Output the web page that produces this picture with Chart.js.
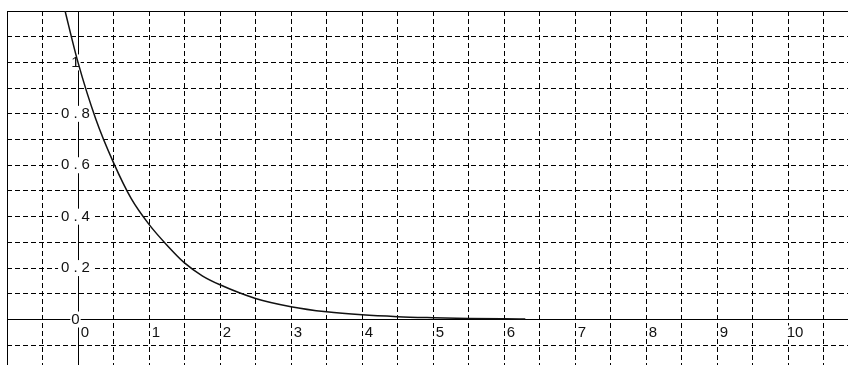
<!DOCTYPE html>
<html>
<head>
<meta charset="utf-8">
<script src="https://cdn.jsdelivr.net/npm/chart.js@4.4.1/dist/chart.umd.min.js"></script>
<style>
  html, body { margin: 0; padding: 0; background: #fff; }
  #wrap { width: 848px; height: 365px; }
</style>
</head>
<body>
<div id="wrap"><canvas id="grafica"></canvas></div>
<script>
"use strict";
/* DATOS */
const xValores = [-0.2, 0, 0.25, 0.5, 0.75, 1, 1.25, 1.5, 1.75, 2, 2.5, 3, 3.5, 4, 4.5, 5, 5.5, 6, 6.3];
const yValores = [1.22, 1.0, 0.78, 0.61, 0.47, 0.37, 0.29, 0.22, 0.17, 0.135, 0.082, 0.05, 0.03, 0.018, 0.011, 0.007, 0.004, 0.0025, 0.002];
const xMarcas = [0, 1, 2, 3, 4, 5, 6, 7, 8, 9, 10];
const xEtiquetas = ["0", "1", "2", "3", "4", "5", "6", "7", "8", "9", "10"];
const yMarcas = [0, 0.2, 0.4, 0.6, 0.8, 1];
const yEtiquetas = ["0", "0.2", "0.4", "0.6", "0.8", "1"];

const FUENTE = "15px 'Liberation Sans', Arial, sans-serif";
const NEGRO = "#000";

/* EJES Y ETIQUETAS */
const ejesPlugin = {
    id: "ejes",
    beforeDatasetsDraw(chart) {
        const ctx = chart.ctx;
        const area = chart.chartArea;
        const sx = chart.scales.x;
        const sy = chart.scales.y;
        const x0 = Math.round(sx.getPixelForValue(0)) + 0.5;
        const y0 = Math.round(sy.getPixelForValue(0)) + 0.5;
        ctx.save();
        ctx.strokeStyle = NEGRO;
        ctx.lineWidth = 1;
        ctx.setLineDash([]);
        ctx.beginPath();
        ctx.moveTo(area.left, y0);
        ctx.lineTo(area.right, y0);
        ctx.moveTo(x0, area.top);
        ctx.lineTo(x0, area.bottom);
        ctx.stroke();
        // borde superior e izquierdo
        ctx.beginPath();
        ctx.moveTo(Math.round(area.left) + 0.5, area.bottom);
        ctx.lineTo(Math.round(area.left) + 0.5, Math.round(area.top) + 0.5);
        ctx.lineTo(area.right, Math.round(area.top) + 0.5);
        ctx.stroke();

        ctx.font = FUENTE;
        ctx.textBaseline = "middle";
        ctx.textAlign = "center";
        // etiquetas eje y
        yMarcas.forEach((v, i) => {
            const texto = yEtiquetas[i];
            const py = sy.getPixelForValue(v);
            ctx.letterSpacing = texto.length > 1 ? "4px" : "0px";
            const w = ctx.measureText(texto).width;
            const cx = x0 - 3;
            ctx.fillStyle = "#fff";
            ctx.fillRect(cx - w / 2 - 1, py - 8, w + 2, 16);
            ctx.fillStyle = "#111";
            ctx.fillText(texto, cx + (texto.length > 1 ? 2 : 0), py);
        });
        ctx.letterSpacing = "0px";
        // etiquetas eje x
        xMarcas.forEach((v, i) => {
            const texto = xEtiquetas[i];
            const px = sx.getPixelForValue(v) + 7;
            const w = ctx.measureText(texto).width;
            ctx.fillStyle = "#fff";
            ctx.fillRect(px - w / 2 - 1, y0 + 6, w + 2, 14);
            ctx.fillStyle = "#111";
            ctx.fillText(texto, px, y0 + 13);
        });
        ctx.restore();
    }
};

/* GRÁFICA */
function inicializarGrafica() {
    const canvas = document.getElementById("grafica");
    const puntos = xValores.map((x, i) => ({ x: x, y: yValores[i] }));
    new Chart(canvas, {
        type: "line",
        data: {
            datasets: [{
                data: puntos,
                borderColor: "#111",
                borderWidth: 1.5,
                pointRadius: 0,
                fill: false,
                cubicInterpolationMode: "monotone"
            }]
        },
        options: {
            responsive: true,
            maintainAspectRatio: false,
            animation: false,
            layout: { padding: { left: 7, top: 11, right: 0, bottom: 0 } },
            plugins: { legend: { display: false }, tooltip: { enabled: false } },
            scales: {
                x: {
                    type: "linear",
                    min: -1,
                    max: 10.845,
                    ticks: { display: false, stepSize: 0.5, includeBounds: false, padding: 0 },
                    grid: { color: NEGRO, lineWidth: 1, drawTicks: false },
                    border: { display: false, dash: [5, 3] }
                },
                y: {
                    type: "linear",
                    min: -0.177,
                    max: 1.2,
                    ticks: { display: false, stepSize: 0.1, includeBounds: false, padding: 0 },
                    grid: { color: NEGRO, lineWidth: 1, drawTicks: false },
                    border: { display: false, dash: [5, 3] }
                }
            }
        },
        plugins: [ejesPlugin]
    });
}

document.addEventListener("DOMContentLoaded", () => {
    inicializarGrafica();
});
</script>
</body>
</html>
